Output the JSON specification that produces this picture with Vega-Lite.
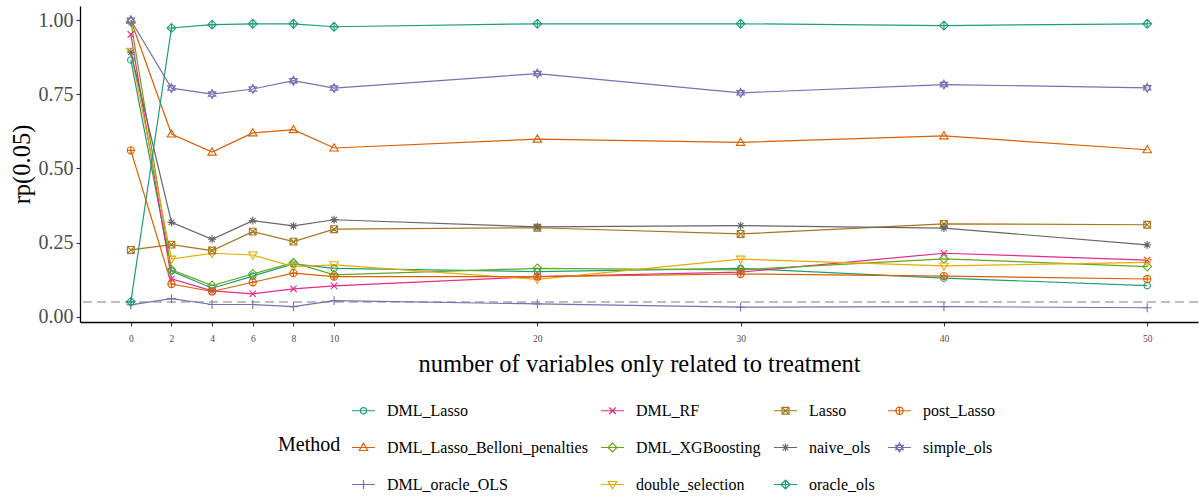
{
  "$schema": "https://vega.github.io/schema/vega-lite/v6.json",
  "width": 1118,
  "height": 316,
  "autosize": {"type": "none"},
  "padding": {"left": 80, "top": 6, "right": 2, "bottom": 172},
  "background": "white",
  "config": {
    "view": {"stroke": null},
    "font": "Liberation Serif",
    "axis": {
      "grid": false,
      "domainColor": "black",
      "domainWidth": 1.3,
      "tickColor": "#333333",
      "tickSize": 4,
      "tickWidth": 1.1,
      "labelFont": "Liberation Serif",
      "labelColor": "#4D4D4D",
      "titleFont": "Liberation Serif",
      "titleFontWeight": "normal",
      "titleColor": "black"
    },
    "legend": {
      "orient": "none",
      "legendX": 198,
      "legendY": 392,
      "columns": 4,
      "padding": 0,
      "titleOrient": "left",
      "titleAnchor": "middle",
      "titleBaseline": "middle",
      "titleFont": "Liberation Serif",
      "titleFontSize": 20,
      "titleFontWeight": "normal",
      "titleColor": "black",
      "titlePadding": 10,
      "labelFont": "Liberation Serif",
      "labelFontSize": 16,
      "labelColor": "black",
      "labelBaseline": "middle",
      "labelOffset": 11,
      "labelLimit": 400,
      "symbolSize": 529,
      "symbolStrokeWidth": 1.2,
      "symbolOpacity": 1,
      "symbolFillColor": "transparent",
      "rowPadding": 16,
      "columnPadding": 10
    }
  },
  "data": {
    "values": [
      {"n": 0, "Method": "DML_Lasso", "rp": 0.866},
      {"n": 2, "Method": "DML_Lasso", "rp": 0.154},
      {"n": 4, "Method": "DML_Lasso", "rp": 0.096},
      {"n": 6, "Method": "DML_Lasso", "rp": 0.137},
      {"n": 8, "Method": "DML_Lasso", "rp": 0.178},
      {"n": 10, "Method": "DML_Lasso", "rp": 0.163},
      {"n": 20, "Method": "DML_Lasso", "rp": 0.152},
      {"n": 30, "Method": "DML_Lasso", "rp": 0.163},
      {"n": 40, "Method": "DML_Lasso", "rp": 0.13},
      {"n": 50, "Method": "DML_Lasso", "rp": 0.105},
      {"n": 0, "Method": "DML_Lasso_Belloni_penalties", "rp": 1.0},
      {"n": 2, "Method": "DML_Lasso_Belloni_penalties", "rp": 0.616},
      {"n": 4, "Method": "DML_Lasso_Belloni_penalties", "rp": 0.555},
      {"n": 6, "Method": "DML_Lasso_Belloni_penalties", "rp": 0.62},
      {"n": 8, "Method": "DML_Lasso_Belloni_penalties", "rp": 0.631},
      {"n": 10, "Method": "DML_Lasso_Belloni_penalties", "rp": 0.569},
      {"n": 20, "Method": "DML_Lasso_Belloni_penalties", "rp": 0.599},
      {"n": 30, "Method": "DML_Lasso_Belloni_penalties", "rp": 0.588},
      {"n": 40, "Method": "DML_Lasso_Belloni_penalties", "rp": 0.61},
      {"n": 50, "Method": "DML_Lasso_Belloni_penalties", "rp": 0.563},
      {"n": 0, "Method": "DML_oracle_OLS", "rp": 0.04},
      {"n": 2, "Method": "DML_oracle_OLS", "rp": 0.061},
      {"n": 4, "Method": "DML_oracle_OLS", "rp": 0.041},
      {"n": 6, "Method": "DML_oracle_OLS", "rp": 0.041},
      {"n": 8, "Method": "DML_oracle_OLS", "rp": 0.034},
      {"n": 10, "Method": "DML_oracle_OLS", "rp": 0.054},
      {"n": 20, "Method": "DML_oracle_OLS", "rp": 0.043},
      {"n": 30, "Method": "DML_oracle_OLS", "rp": 0.032},
      {"n": 40, "Method": "DML_oracle_OLS", "rp": 0.034},
      {"n": 50, "Method": "DML_oracle_OLS", "rp": 0.03},
      {"n": 0, "Method": "DML_RF", "rp": 0.952},
      {"n": 2, "Method": "DML_RF", "rp": 0.128},
      {"n": 4, "Method": "DML_RF", "rp": 0.087},
      {"n": 6, "Method": "DML_RF", "rp": 0.077},
      {"n": 8, "Method": "DML_RF", "rp": 0.094},
      {"n": 10, "Method": "DML_RF", "rp": 0.104},
      {"n": 20, "Method": "DML_RF", "rp": 0.135},
      {"n": 30, "Method": "DML_RF", "rp": 0.15},
      {"n": 40, "Method": "DML_RF", "rp": 0.214},
      {"n": 50, "Method": "DML_RF", "rp": 0.191},
      {"n": 0, "Method": "DML_XGBoosting", "rp": 0.995},
      {"n": 2, "Method": "DML_XGBoosting", "rp": 0.158},
      {"n": 4, "Method": "DML_XGBoosting", "rp": 0.105},
      {"n": 6, "Method": "DML_XGBoosting", "rp": 0.144},
      {"n": 8, "Method": "DML_XGBoosting", "rp": 0.182},
      {"n": 10, "Method": "DML_XGBoosting", "rp": 0.141},
      {"n": 20, "Method": "DML_XGBoosting", "rp": 0.163},
      {"n": 30, "Method": "DML_XGBoosting", "rp": 0.158},
      {"n": 40, "Method": "DML_XGBoosting", "rp": 0.195},
      {"n": 50, "Method": "DML_XGBoosting", "rp": 0.169},
      {"n": 0, "Method": "double_selection", "rp": 0.895},
      {"n": 2, "Method": "double_selection", "rp": 0.194},
      {"n": 4, "Method": "double_selection", "rp": 0.214},
      {"n": 6, "Method": "double_selection", "rp": 0.208},
      {"n": 8, "Method": "double_selection", "rp": 0.169},
      {"n": 10, "Method": "double_selection", "rp": 0.175},
      {"n": 20, "Method": "double_selection", "rp": 0.126},
      {"n": 30, "Method": "double_selection", "rp": 0.194},
      {"n": 40, "Method": "double_selection", "rp": 0.171},
      {"n": 50, "Method": "double_selection", "rp": 0.183},
      {"n": 0, "Method": "Lasso", "rp": 0.225},
      {"n": 2, "Method": "Lasso", "rp": 0.243},
      {"n": 4, "Method": "Lasso", "rp": 0.223},
      {"n": 6, "Method": "Lasso", "rp": 0.287},
      {"n": 8, "Method": "Lasso", "rp": 0.253},
      {"n": 10, "Method": "Lasso", "rp": 0.295},
      {"n": 20, "Method": "Lasso", "rp": 0.3},
      {"n": 30, "Method": "Lasso", "rp": 0.279},
      {"n": 40, "Method": "Lasso", "rp": 0.313},
      {"n": 50, "Method": "Lasso", "rp": 0.31},
      {"n": 0, "Method": "naive_ols", "rp": 0.892},
      {"n": 2, "Method": "naive_ols", "rp": 0.318},
      {"n": 4, "Method": "naive_ols", "rp": 0.261},
      {"n": 6, "Method": "naive_ols", "rp": 0.324},
      {"n": 8, "Method": "naive_ols", "rp": 0.306},
      {"n": 10, "Method": "naive_ols", "rp": 0.327},
      {"n": 20, "Method": "naive_ols", "rp": 0.303},
      {"n": 30, "Method": "naive_ols", "rp": 0.307},
      {"n": 40, "Method": "naive_ols", "rp": 0.299},
      {"n": 50, "Method": "naive_ols", "rp": 0.242},
      {"n": 0, "Method": "oracle_ols", "rp": 0.05},
      {"n": 2, "Method": "oracle_ols", "rp": 0.974},
      {"n": 4, "Method": "oracle_ols", "rp": 0.985},
      {"n": 6, "Method": "oracle_ols", "rp": 0.988},
      {"n": 8, "Method": "oracle_ols", "rp": 0.988},
      {"n": 10, "Method": "oracle_ols", "rp": 0.978},
      {"n": 20, "Method": "oracle_ols", "rp": 0.988},
      {"n": 30, "Method": "oracle_ols", "rp": 0.988},
      {"n": 40, "Method": "oracle_ols", "rp": 0.982},
      {"n": 50, "Method": "oracle_ols", "rp": 0.988},
      {"n": 0, "Method": "post_Lasso", "rp": 0.561},
      {"n": 2, "Method": "post_Lasso", "rp": 0.11},
      {"n": 4, "Method": "post_Lasso", "rp": 0.085},
      {"n": 6, "Method": "post_Lasso", "rp": 0.116},
      {"n": 8, "Method": "post_Lasso", "rp": 0.147},
      {"n": 10, "Method": "post_Lasso", "rp": 0.135},
      {"n": 20, "Method": "post_Lasso", "rp": 0.135},
      {"n": 30, "Method": "post_Lasso", "rp": 0.144},
      {"n": 40, "Method": "post_Lasso", "rp": 0.137},
      {"n": 50, "Method": "post_Lasso", "rp": 0.127},
      {"n": 0, "Method": "simple_ols", "rp": 1.0},
      {"n": 2, "Method": "simple_ols", "rp": 0.771},
      {"n": 4, "Method": "simple_ols", "rp": 0.751},
      {"n": 6, "Method": "simple_ols", "rp": 0.768},
      {"n": 8, "Method": "simple_ols", "rp": 0.796},
      {"n": 10, "Method": "simple_ols", "rp": 0.771},
      {"n": 20, "Method": "simple_ols", "rp": 0.82},
      {"n": 30, "Method": "simple_ols", "rp": 0.755},
      {"n": 40, "Method": "simple_ols", "rp": 0.783},
      {"n": 50, "Method": "simple_ols", "rp": 0.772}
    ]
  },
  "encoding": {
    "x": {
      "field": "n",
      "type": "quantitative",
      "scale": {"domain": [-2.5, 52.5], "nice": false, "zero": false},
      "axis": {
        "values": [0, 2, 4, 6, 8, 10, 20, 30, 40, 50],
        "labelFont": "Liberation Serif",
        "labelFontSize": 9.5,
        "labelPadding": 7,
        "title": "number of variables only related to treatment",
        "titleFont": "Liberation Serif",
        "titleFontSize": 24.5,
        "titlePadding": 10
      }
    },
    "y": {
      "field": "rp",
      "type": "quantitative",
      "scale": {"domain": [-0.018, 1.048], "nice": false, "zero": false},
      "axis": {
        "values": [0, 0.25, 0.5, 0.75, 1],
        "format": ".2f",
        "labelFont": "Liberation Serif",
        "labelFontSize": 20,
        "labelPadding": 3,
        "title": "rp(0.05)",
        "titleFont": "Liberation Serif",
        "titleFontSize": 24.5,
        "titlePadding": 4
      }
    }
  },
  "layer": [
    {
      "mark": {"type": "rule", "color": "#BDBDBD", "strokeWidth": 1.2, "strokeDash": [9, 5]},
      "encoding": {"x": null, "y": {"datum": 0.05, "type": "quantitative"}}
    },
    {
      "mark": {"type": "line", "strokeWidth": 1.2},
      "encoding": {
        "color": {
          "field": "Method",
          "type": "nominal",
          "legend": null,
          "scale": {
            "domain": ["DML_Lasso", "DML_Lasso_Belloni_penalties", "DML_oracle_OLS", "DML_RF", "DML_XGBoosting", "double_selection", "Lasso", "naive_ols", "oracle_ols", "post_Lasso", "simple_ols"],
            "range": ["#1B9E77", "#D95F02", "#7570B3", "#E7298A", "#66A61E", "#E6AB02", "#A6761D", "#666666", "#1B9E77", "#D95F02", "#7570B3"]
          }
        }
      }
    },
    {
      "mark": {"type": "point", "filled": false, "size": 64, "strokeWidth": 1.1, "opacity": 1},
      "encoding": {
        "color": {
          "field": "Method",
          "type": "nominal",
          "legend": null,
          "scale": {
            "domain": ["DML_Lasso", "DML_Lasso_Belloni_penalties", "DML_oracle_OLS", "DML_RF", "DML_XGBoosting", "double_selection", "Lasso", "naive_ols", "oracle_ols", "post_Lasso", "simple_ols"],
            "range": ["#1B9E77", "#D95F02", "#7570B3", "#E7298A", "#66A61E", "#E6AB02", "#A6761D", "#666666", "#1B9E77", "#D95F02", "#7570B3"]
          }
        },
        "shape": {
          "field": "Method",
          "type": "nominal",
          "legend": null,
          "scale": {
            "domain": ["DML_Lasso", "DML_Lasso_Belloni_penalties", "DML_oracle_OLS", "DML_RF", "DML_XGBoosting", "double_selection", "Lasso", "naive_ols", "oracle_ols", "post_Lasso", "simple_ols"],
            "range": [
              "M0.8,0A0.8,0.8,0,1,1,-0.8,0A0.8,0.8,0,1,1,0.8,0Z",
              "M0,-1.05L1.05,0.75L-1.05,0.75Z",
              "M-1.1,0L1.1,0M0,-1.1L0,1.1",
              "M-0.8,-0.8L0.8,0.8M-0.8,0.8L0.8,-0.8",
              "M0,-1.1L1.1,0L0,1.1L-1.1,0Z",
              "M0,1.05L1.05,-0.75L-1.05,-0.75Z",
              "M-0.85,-0.85L0.85,-0.85L0.85,0.85L-0.85,0.85ZM-0.85,-0.85L0.85,0.85M-0.85,0.85L0.85,-0.85",
              "M-1,0L1,0M0,-1L0,1M-0.7,-0.7L0.7,0.7M-0.7,0.7L0.7,-0.7",
              "M0,-1.1L1.1,0L0,1.1L-1.1,0ZM-1.1,0L1.1,0M0,-1.1L0,1.1",
              "M0.9,0A0.9,0.9,0,1,1,-0.9,0A0.9,0.9,0,1,1,0.9,0ZM-0.9,0L0.9,0M0,-0.9L0,0.9",
              "M0,-1.1L0.95,0.55L-0.95,0.55ZM0,1.1L0.95,-0.55L-0.95,-0.55Z"
            ]
          }
        }
      }
    },
    {
      "mark": {"type": "point", "filled": false, "opacity": 0, "strokeWidth": 1.2},
      "encoding": {
        "color": {
          "field": "Method",
          "type": "nominal",
          "title": "Method",
          "legend": {"labelFont": "Liberation Serif", "titleFont": "Liberation Serif"},
          "scale": {
            "domain": ["DML_Lasso", "DML_Lasso_Belloni_penalties", "DML_oracle_OLS", "DML_RF", "DML_XGBoosting", "double_selection", "Lasso", "naive_ols", "oracle_ols", "post_Lasso", "simple_ols"],
            "range": ["#1B9E77", "#D95F02", "#7570B3", "#E7298A", "#66A61E", "#E6AB02", "#A6761D", "#666666", "#1B9E77", "#D95F02", "#7570B3"]
          }
        },
        "shape": {
          "field": "Method",
          "type": "nominal",
          "title": "Method",
          "legend": {"labelFont": "Liberation Serif", "titleFont": "Liberation Serif"},
          "scale": {
            "domain": ["DML_Lasso", "DML_Lasso_Belloni_penalties", "DML_oracle_OLS", "DML_RF", "DML_XGBoosting", "double_selection", "Lasso", "naive_ols", "oracle_ols", "post_Lasso", "simple_ols"],
            "range": [
              "M-1,0L1,0M0.28,0A0.28,0.28,0,1,1,-0.28,0A0.28,0.28,0,1,1,0.28,0Z",
              "M-1,0L1,0M0,-0.37L0.37,0.26L-0.37,0.26Z",
              "M-1,0L1,0M0,-0.385L0,0.385",
              "M-1,0L1,0M-0.28,-0.28L0.28,0.28M-0.28,0.28L0.28,-0.28",
              "M-1,0L1,0M0,-0.385L0.385,0L0,0.385L-0.385,0Z",
              "M-1,0L1,0M0,0.37L0.37,-0.26L-0.37,-0.26Z",
              "M-1,0L1,0M-0.3,-0.3L0.3,-0.3L0.3,0.3L-0.3,0.3ZM-0.3,-0.3L0.3,0.3M-0.3,0.3L0.3,-0.3",
              "M-1,0L1,0M0,-0.35L0,0.35M-0.245,-0.245L0.245,0.245M-0.245,0.245L0.245,-0.245",
              "M-1,0L1,0M0,-0.385L0.385,0L0,0.385L-0.385,0ZM0,-0.385L0,0.385",
              "M-1,0L1,0M0.315,0A0.315,0.315,0,1,1,-0.315,0A0.315,0.315,0,1,1,0.315,0ZM0,-0.315L0,0.315",
              "M-1,0L1,0M0,-0.385L0.333,0.193L-0.333,0.193ZM0,0.385L0.333,-0.193L-0.333,-0.193Z"
            ]
          }
        }
      }
    }
  ],
  "resolve": {
    "scale": {"color": "independent", "shape": "independent"},
    "legend": {"color": "independent", "shape": "independent"}
  }
}
